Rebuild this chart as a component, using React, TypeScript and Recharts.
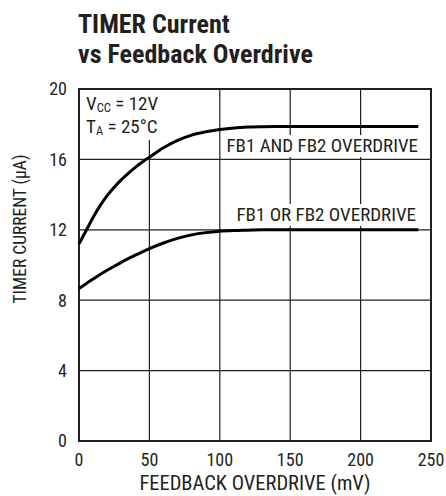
import React from "react";
import { LineChart, Line, XAxis, YAxis, CartesianGrid, ReferenceArea, Label } from "recharts";

const overdriveMv = [0, 5, 10, 15, 20, 25, 30, 35, 40, 45, 50, 60, 70, 80, 90, 100, 110, 120, 130, 140, 160, 200, 241];
const fb1AndFb2 = [11.2, 11.95, 12.7, 13.37, 13.94, 14.42, 14.84, 15.21, 15.55, 15.85, 16.12, 16.66, 17.08, 17.38, 17.57, 17.7, 17.79, 17.84, 17.86, 17.87, 17.87, 17.87, 17.87];
const fb1OrFb2 = [8.66, 8.94, 9.2, 9.46, 9.7, 9.93, 10.15, 10.36, 10.56, 10.75, 10.93, 11.25, 11.51, 11.71, 11.84, 11.92, 11.96, 11.98, 12.0, 12.0, 12.0, 12.0, 12.0];
const xTicks = [0, 50, 100, 150, 200, 250];
const yTicks = [0, 4, 8, 12, 16, 20];

const data = overdriveMv.map((x, i) => ({ x, and: fb1AndFb2[i], or: fb1OrFb2[i] }));

const FONT = '"Liberation Sans Narrow", "Arial Narrow", "Roboto Condensed", "Liberation Sans", sans-serif';
const INK = "#231f20";

export default function App() {
  return (
    <div style={{ position: "absolute", left: 0, top: 0, width: 446, height: 496, background: "#fff", fontFamily: FONT }}>
      <div style={{ position: "absolute", left: 78, top: 9, fontSize: 26, fontWeight: "bold", lineHeight: "30px", color: INK }}>
        TIMER Current
        <br />
        vs Feedback Overdrive
      </div>
      <LineChart width={446} height={496} data={data} margin={{ top: 89, right: 15, left: 0, bottom: 0 }}>
        <CartesianGrid stroke={INK} strokeWidth={1.2} horizontalValues={yTicks} verticalValues={xTicks} />
        <XAxis
          type="number"
          dataKey="x"
          domain={[0, 250]}
          ticks={xTicks}
          tickLine={false}
          axisLine={false}
          tickSize={0}
          tickMargin={12}
          height={55}
          tick={{ fill: INK, fontSize: 18, fontFamily: FONT }}
        >
          <Label value="FEEDBACK OVERDRIVE (mV)" position="insideBottom" offset={6} style={{ fill: INK, fontSize: 20.5, fontFamily: FONT }} />
        </XAxis>
        <YAxis
          type="number"
          domain={[0, 20]}
          ticks={yTicks}
          tickLine={false}
          axisLine={false}
          tickSize={0}
          tickMargin={12}
          width={79}
          tick={{ fill: INK, fontSize: 18, fontFamily: FONT }}
        >
          <Label
            content={() => (
              <text
                x={20}
                y={229}
                transform="rotate(-90 20 229)"
                textAnchor="middle"
                dominantBaseline="central"
                style={{ fill: INK, fontSize: 17.5, fontFamily: FONT }}
              >
                TIMER CURRENT (μA)
              </text>
            )}
          />
        </YAxis>
        <ReferenceArea x1={0} x2={250} y1={0} y2={20} fill="none" stroke={INK} strokeWidth={2} fillOpacity={0} ifOverflow="visible" />
        <Line type="monotone" dataKey="and" stroke="#000" strokeWidth={3} dot={false} isAnimationActive={false} />
        <Line type="monotone" dataKey="or" stroke="#000" strokeWidth={3} dot={false} isAnimationActive={false} />
      </LineChart>
      <div style={{ position: "absolute", left: 81, top: 90, width: 82, height: 50, background: "#fff" }} />
      <div style={{ position: "absolute", left: 86, top: 95, fontSize: 19, lineHeight: "18px", color: INK }}>
        V<sub style={{ fontSize: 12.5, verticalAlign: "-2px", lineHeight: 0 }}>CC</sub> = 12V
      </div>
      <div style={{ position: "absolute", left: 86, top: 118, fontSize: 19, lineHeight: "18px", color: INK }}>
        T<sub style={{ fontSize: 12.5, verticalAlign: "-2px", lineHeight: 0 }}>A</sub> = 25°C
      </div>
      <div style={{ position: "absolute", right: 27, top: 135, fontSize: 19, lineHeight: "22px", color: INK, background: "#fff", padding: "0 1px" }}>
        FB1 AND FB2 OVERDRIVE
      </div>
      <div style={{ position: "absolute", right: 29, top: 204, fontSize: 19, lineHeight: "22px", color: INK, background: "#fff", padding: "0 1px" }}>
        FB1 OR FB2 OVERDRIVE
      </div>
    </div>
  );
}
